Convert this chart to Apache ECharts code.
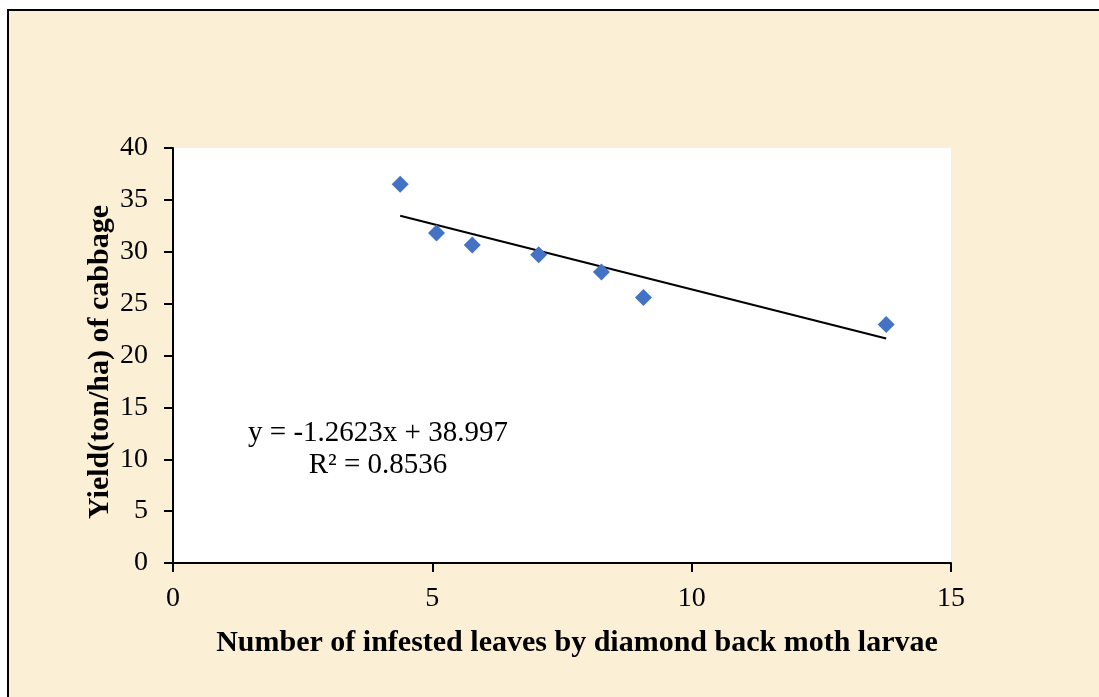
<!DOCTYPE html>
<html>
<head>
<meta charset="utf-8">
<title>Yield vs infested leaves</title>
<script src="https://cdn.jsdelivr.net/npm/echarts@6/dist/echarts.min.js"></script>
<style>
  html, body { margin: 0; padding: 0; background: #fff; }
  #chart { width: 1099px; height: 697px; }
</style>
</head>
<body>
<div id="chart"></div>
<script>
// infested leaves (x) vs yield ton/ha (y)
const infestedLeaves = [4.38, 5.08, 5.77, 7.05, 8.26, 9.07, 13.75];
const yieldTonHa = [36.5, 31.8, 30.65, 29.7, 28.05, 25.6, 23.0];
// linear trendline ends (Excel trendline over the x range)
const trendX = [4.38, 13.75];
const trendY = [33.47, 21.64];
const xTicks = [0, 5, 10, 15];
const yTicks = [0, 5, 10, 15, 20, 25, 30, 35, 40];
const equationText = 'y = -1.2623x + 38.997';
const r2Text = 'R² = 0.8536';
const yTitle = 'Yield(ton/ha) of cabbage';

const serif = '"Liberation Serif", "Times New Roman", serif';
const points = infestedLeaves.map((x, i) => [x, yieldTonHa[i]]);
const trend = trendX.map((x, i) => [x, trendY[i]]);

const chart = echarts.init(document.getElementById('chart'));
const axisStyle = { lineStyle: { color: '#000', width: 2 } };

chart.setOption({
    animation: false,
    grid: {
        left: 173, right: 148, top: 148, bottom: 134,
        show: true, backgroundColor: '#fff', borderWidth: 0
    },
    graphic: [
        {
            type: 'rect', z: -10, silent: true,
            shape: { x: 8, y: 10, width: 1400, height: 900 },
            style: { fill: '#fbefd6', stroke: '#000', lineWidth: 2 }
        },
        {
            type: 'text', z: 10, x: 378, y: 433,
            style: { text: equationText, font: '29px ' + serif, fill: '#000', textAlign: 'center', textVerticalAlign: 'middle' }
        },
        {
            type: 'text', z: 10, x: 378, y: 465,
            style: { text: r2Text, font: '29px ' + serif, fill: '#000', textAlign: 'center', textVerticalAlign: 'middle' }
        },
        {
            // y axis title, rotated
            type: 'text', z: 10, x: 100, y: 362, rotation: Math.PI / 2,
            style: { text: yTitle, font: 'bold 30px ' + serif, fill: '#000', textAlign: 'center', textVerticalAlign: 'middle' }
        }
    ],
    xAxis: {
        type: 'value', min: xTicks[0], max: xTicks[xTicks.length - 1], interval: 5,
        name: 'Number of infested leaves by diamond back moth larvae',
        nameLocation: 'middle', nameGap: 65,
        nameTextStyle: { fontFamily: serif, fontSize: 30, fontWeight: 'bold', color: '#000', padding: [0, 0, 0, 30] },
        axisLine: axisStyle,
        axisTick: { show: true, inside: false, length: 9, lineStyle: { color: '#000', width: 2 } },
        axisLabel: { fontFamily: serif, fontSize: 28, color: '#000', margin: 22 },
        splitLine: { show: false }
    },
    yAxis: {
        type: 'value', min: yTicks[0], max: yTicks[yTicks.length - 1], interval: 5,
        axisLine: axisStyle,
        axisTick: { show: true, inside: false, length: 9, lineStyle: { color: '#000', width: 2 } },
        axisLabel: { fontFamily: serif, fontSize: 28, color: '#000', margin: 25 },
        splitLine: { show: false }
    },
    series: [
        {
            name: 'Trendline', type: 'line', data: trend,
            showSymbol: false, symbol: 'none',
            lineStyle: { color: '#000', width: 2 }, z: 2
        },
        {
            name: 'Yield', type: 'scatter', data: points,
            symbol: 'diamond', symbolSize: 17,
            itemStyle: { color: '#4472c4', opacity: 1 }, z: 3
        }
    ]
});
window.addEventListener('resize', () => chart.resize());
</script>
</body>
</html>
